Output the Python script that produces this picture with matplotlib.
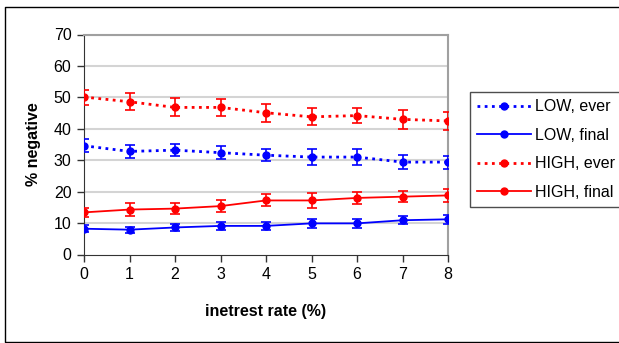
import matplotlib.pyplot as plt
import numpy as np
from matplotlib.lines import Line2D

plt.rcParams['font.family'] = ['Liberation Sans', 'DejaVu Sans']

rate = [0, 1, 2, 3, 4, 5, 6, 7, 8]

low_ever = [34.6, 32.8, 33.2, 32.4, 31.6, 31.0, 31.0, 29.4, 29.4]
low_ever_err = [2.0, 2.15, 1.95, 2.0, 1.95, 2.5, 2.5, 2.15, 2.1]
low_final = [8.2, 7.9, 8.6, 9.1, 9.1, 9.9, 9.9, 10.9, 11.2]
low_final_err = [1.1, 0.95, 1.25, 1.25, 1.2, 1.5, 1.4, 1.2, 1.4]
high_ever = [50.1, 48.6, 46.8, 46.8, 45.1, 43.8, 44.2, 43.0, 42.5]
high_ever_err = [2.4, 2.7, 2.85, 2.6, 2.8, 2.75, 2.5, 3.1, 3.0]
high_final = [13.4, 14.3, 14.6, 15.4, 17.2, 17.2, 18.0, 18.4, 18.8]
high_final_err = [1.5, 2.0, 1.8, 1.9, 1.9, 2.4, 1.9, 1.75, 2.05]

labels = ['LOW, ever', 'LOW, final', 'HIGH, ever', 'HIGH, final']
yticks = [0, 10, 20, 30, 40, 50, 60, 70]

fig = plt.figure(figsize=(6.19, 3.43), dpi=100)
ax = fig.add_axes([84/619, 1-254.5/343, (448-84)/619, (254.5-34.5)/343])

series = [
    (low_ever, low_ever_err, 'blue', (0, (1, 1.6)), 2.0),
    (low_final, low_final_err, 'blue', '-', 1.3),
    (high_ever, high_ever_err, 'red', (0, (1, 1.6)), 2.0),
    (high_final, high_final_err, 'red', '-', 1.3),
]
handles = []
for (vals, err, col, ls, lw), lab in zip(series, labels):
    ax.errorbar(rate, vals, yerr=err, color=col, ecolor=col, elinewidth=1.2,
                capsize=3.8, capthick=1.2, fmt='none', zorder=3)
    ax.plot(rate, vals, color=col, linestyle=ls, linewidth=lw, zorder=4,
            solid_capstyle='butt', dash_capstyle='butt')
    ax.plot(rate, vals, 'o', color=col, markersize=5, zorder=5)
    handles.append(Line2D([], [], color=col, linestyle=ls, linewidth=lw,
                          marker='o', markersize=5, label=lab))

ax.set_xlim(0, 8)
ax.set_ylim(0, 70)
ax.set_xticks(rate)
ax.set_yticks(yticks)
for y in yticks[1:]:
    ax.axhline(y, color='#d4d4d4', linewidth=1.5, zorder=1)

ax.spines['top'].set_color('#a0a0a0')
ax.spines['right'].set_color('#a0a0a0')
ax.spines['top'].set_linewidth(1.5)
ax.spines['right'].set_linewidth(1.5)
ax.spines['left'].set_color('#333333')
ax.spines['bottom'].set_color('#333333')
ax.tick_params(direction='out', length=5, width=1, color='#333333',
               labelsize=11.5, pad=4)

ax.set_xlabel('inetrest rate (%)', fontsize=11.5, fontweight='bold', labelpad=16)
ax.set_ylabel('% negative', fontsize=11.5, fontweight='bold', labelpad=9)

leg = fig.legend(handles=handles, loc='upper left',
                 bbox_to_anchor=(470/619, 1-92/343), fontsize=11.5,
                 frameon=True, fancybox=False, handlelength=3.4,
                 handletextpad=0.2, labelspacing=0.85, borderpad=0.45,
                 borderaxespad=0)
leg.get_frame().set_edgecolor('#222222')
leg.get_frame().set_linewidth(1.0)

# outer chart border
bx = [1.2, 4.5/619, 4.5/619, 1.2]
by = [1-6.5/343, 1-6.5/343, 1-341.5/343, 1-341.5/343]
fig.add_artist(Line2D(bx, by, color='black', linewidth=1.0,
                      transform=fig.transFigure))

fig.savefig('out.png', dpi=100)
